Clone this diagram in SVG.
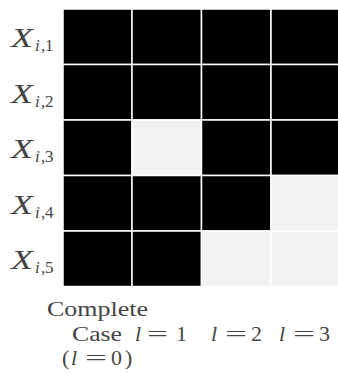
<svg xmlns="http://www.w3.org/2000/svg" width="338" height="373" viewBox="0 0 338 373">
<style>
.b{fill:#000;stroke:#fff;stroke-width:1.5}
.w{fill:#f2f2f2;stroke:#fff;stroke-width:1.5}
text{font-family:"Liberation Serif","DejaVu Serif",serif;fill:#454545;font-size:22px}
.x{font-size:28px;font-style:italic}
.s{font-size:17px}
.i{font-style:italic}
</style>
<rect width="338" height="373" fill="#fff"/>
<g id="grid">
<g id="row1">
<rect class="b" x="63" y="9" width="69" height="55.5"/>
<rect class="b" x="132" y="9" width="69.5" height="55.5"/>
<rect class="b" x="201.5" y="9" width="69.5" height="55.5"/>
<rect class="b" x="271" y="9" width="69" height="55.5"/>
</g>
<g id="row2">
<rect class="b" x="63" y="64.5" width="69" height="55.5"/>
<rect class="b" x="132" y="64.5" width="69.5" height="55.5"/>
<rect class="b" x="201.5" y="64.5" width="69.5" height="55.5"/>
<rect class="b" x="271" y="64.5" width="69" height="55.5"/>
</g>
<g id="row3">
<rect class="b" x="63" y="120" width="69" height="55.5"/>
<rect class="w" x="132" y="120" width="69.5" height="55.5"/>
<rect class="b" x="201.5" y="120" width="69.5" height="55.5"/>
<rect class="b" x="271" y="120" width="69" height="55.5"/>
</g>
<g id="row4">
<rect class="b" x="63" y="175.5" width="69" height="55.5"/>
<rect class="b" x="132" y="175.5" width="69.5" height="55.5"/>
<rect class="b" x="201.5" y="175.5" width="69.5" height="55.5"/>
<rect class="w" x="271" y="175.5" width="69" height="55.5"/>
</g>
<g id="row5">
<rect class="b" x="63" y="231" width="69" height="55.5"/>
<rect class="b" x="132" y="231" width="69.5" height="55.5"/>
<rect class="w" x="201.5" y="231" width="69.5" height="55.5"/>
<rect class="w" x="271" y="231" width="69" height="55.5"/>
</g>
</g>
<g id="rowlabels">
<g id="label1"><text class="x" x="11" y="47" textLength="22" lengthAdjust="spacingAndGlyphs">X</text><text class="s" y="51"><tspan class="i" x="35">i</tspan><tspan x="41">,</tspan><tspan x="45">1</tspan></text></g>
<g id="label2"><text class="x" x="11" y="103" textLength="22" lengthAdjust="spacingAndGlyphs">X</text><text class="s" y="107"><tspan class="i" x="35">i</tspan><tspan x="41">,</tspan><tspan x="45">2</tspan></text></g>
<g id="label3"><text class="x" x="11" y="158" textLength="22" lengthAdjust="spacingAndGlyphs">X</text><text class="s" y="162"><tspan class="i" x="35">i</tspan><tspan x="41">,</tspan><tspan x="45">3</tspan></text></g>
<g id="label4"><text class="x" x="11" y="214" textLength="22" lengthAdjust="spacingAndGlyphs">X</text><text class="s" y="218"><tspan class="i" x="35">i</tspan><tspan x="41">,</tspan><tspan x="45">4</tspan></text></g>
<g id="label5"><text class="x" x="11" y="269" textLength="22" lengthAdjust="spacingAndGlyphs">X</text><text class="s" y="273"><tspan class="i" x="35">i</tspan><tspan x="41">,</tspan><tspan x="45">5</tspan></text></g>
</g>
<g id="collabels">
<text x="47" y="316" textLength="101" lengthAdjust="spacingAndGlyphs">Complete</text>
<text x="72" y="341" textLength="50" lengthAdjust="spacingAndGlyphs">Case</text>
<text y="365"><tspan x="62">(</tspan><tspan class="i" x="71">l</tspan><tspan x="111">0</tspan><tspan x="125">)</tspan></text>
<text x="85" y="365" textLength="22" lengthAdjust="spacingAndGlyphs">=</text>
<text y="341"><tspan class="i" x="135">l</tspan><tspan x="176">1</tspan></text>
<text x="147" y="341" textLength="21" lengthAdjust="spacingAndGlyphs">=</text>
<text y="341"><tspan class="i" x="211">l</tspan><tspan x="251">2</tspan></text>
<text x="225" y="341" textLength="22" lengthAdjust="spacingAndGlyphs">=</text>
<text y="341"><tspan class="i" x="279">l</tspan><tspan x="319">3</tspan></text>
<text x="293" y="341" textLength="22" lengthAdjust="spacingAndGlyphs">=</text>
</g>
</svg>
